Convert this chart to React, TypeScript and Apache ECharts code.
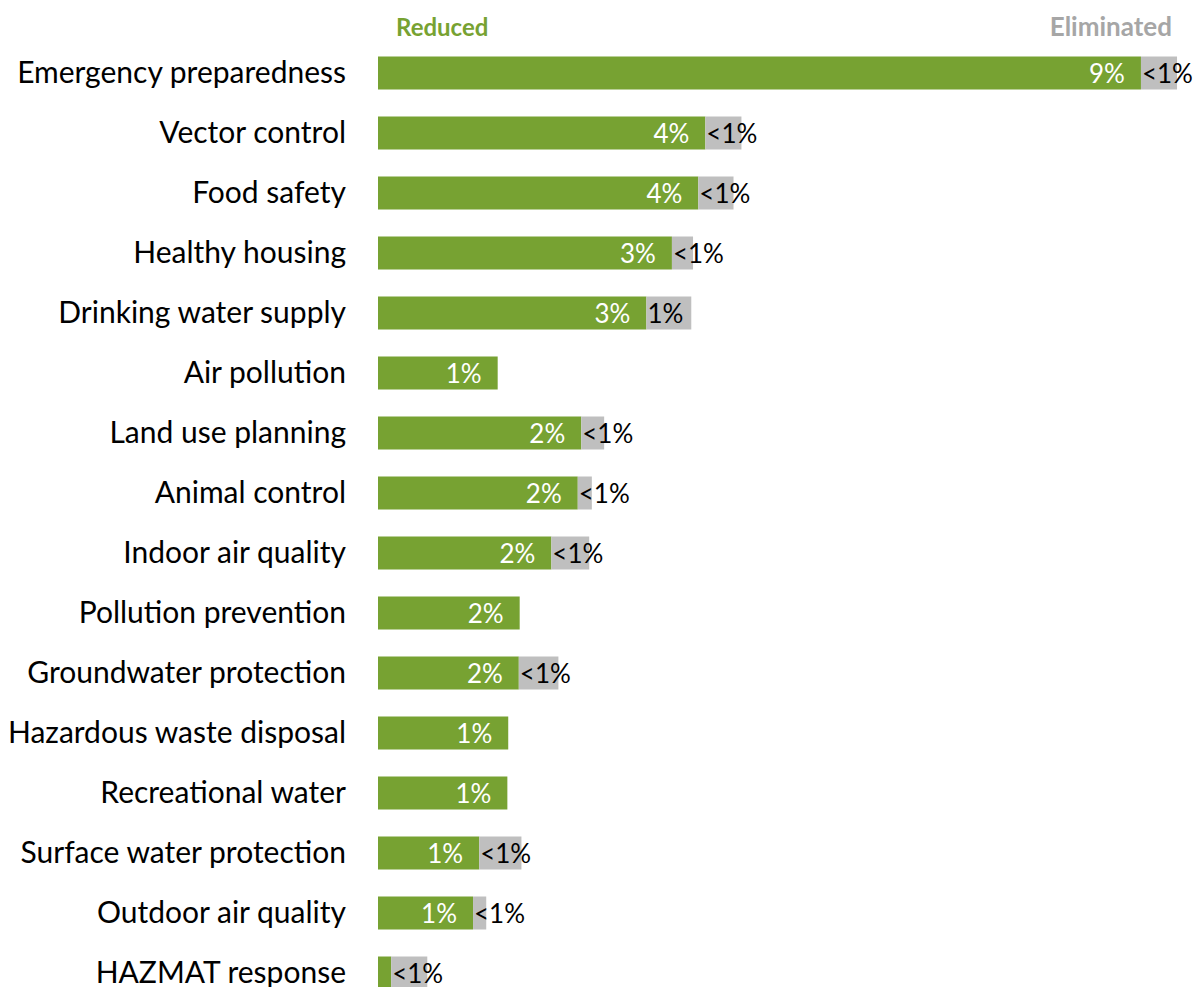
import React, { useEffect, useRef } from "react";
import * as echarts from "echarts";

const categories = [
  "Emergency preparedness",
  "Vector control",
  "Food safety",
  "Healthy housing",
  "Drinking water supply",
  "Air pollution",
  "Land use planning",
  "Animal control",
  "Indoor air quality",
  "Pollution prevention",
  "Groundwater protection",
  "Hazardous waste disposal",
  "Recreational water",
  "Surface water protection",
  "Outdoor air quality",
  "HAZMAT response",
];

const reduced = [8.67, 3.72, 3.64, 3.34, 3.05, 1.36, 2.31, 2.27, 1.97, 1.61, 1.6, 1.48, 1.47, 1.15, 1.08, 0.15];
const eliminated = [0.41, 0.41, 0.4, 0.24, 0.51, 0, 0.26, 0.16, 0.43, 0, 0.45, 0, 0, 0.48, 0.15, 0.41];

const GREEN = "#77A232";
const GRAY = "#BFBFBF";
const FONT = "Lato, 'Noto Sans', sans-serif";

function pct(v: number, showSmall: boolean): string {
  if (!v) return "";
  if (v < 0.5) return showSmall ? "<1%" : "";
  return Math.round(v) + "%";
}

export default function App() {
  const ref = useRef<HTMLDivElement>(null);
  useEffect(() => {
    if (!ref.current) return;
    const chart = echarts.init(ref.current, undefined, { renderer: "svg" });
    chart.setOption({
      animation: false,
      textStyle: { fontFamily: FONT },
      grid: { left: 378, top: 43, width: 809.6, height: 960 },
      xAxis: { type: "value", min: 0, max: 9.2, show: false },
      yAxis: {
        type: "category",
        data: categories,
        inverse: true,
        axisLine: { show: false },
        axisTick: { show: false },
        splitLine: { show: false },
        axisLabel: {
          fontSize: 30,
          color: "#000",
          margin: 32,
          fontFamily: FONT,
          formatter: (v: string) => `{a|${v}}`,
          rich: {
            a: {
              fontSize: 30,
              color: "#000",
              fontFamily: FONT,
              lineHeight: 34,
              padding: [0, 0, 5, 0],
            },
          },
        },
      },
      graphic: [
        {
          type: "text",
          x: 396,
          y: 26,
          style: {
            text: "Reduced",
            fill: GREEN,
            font: `bold 24px ${FONT}`,
            textAlign: "left",
            textVerticalAlign: "middle",
          },
        },
        {
          type: "text",
          x: 1172,
          y: 26,
          style: {
            text: "Eliminated",
            fill: "#A6A6A6",
            font: `bold 26px ${FONT}`,
            textAlign: "right",
            textVerticalAlign: "middle",
          },
        },
      ],
      series: [
        {
          name: "Reduced",
          type: "bar",
          stack: "total",
          data: reduced,
          barWidth: 33,
          itemStyle: { color: GREEN },
          label: {
            show: true,
            position: "insideRight",
            distance: 16,
            color: "#fff",
            fontSize: 26,
            fontFamily: FONT,
            formatter: (p: any) => pct(p.value, false),
          },
        },
        {
          name: "Eliminated",
          type: "bar",
          stack: "total",
          data: eliminated,
          barWidth: 33,
          itemStyle: { color: GRAY },
          label: {
            show: true,
            position: "insideLeft",
            distance: 1,
            color: "#000",
            fontSize: 26,
            fontFamily: FONT,
            formatter: (p: any) => pct(p.value, true),
          },
        },
      ],
    });
    return () => chart.dispose();
  }, []);
  return (
    <div
      ref={ref}
      style={{ position: "fixed", left: 0, top: 0, width: 1196, height: 1010, background: "#fff" }}
    />
  );
}
